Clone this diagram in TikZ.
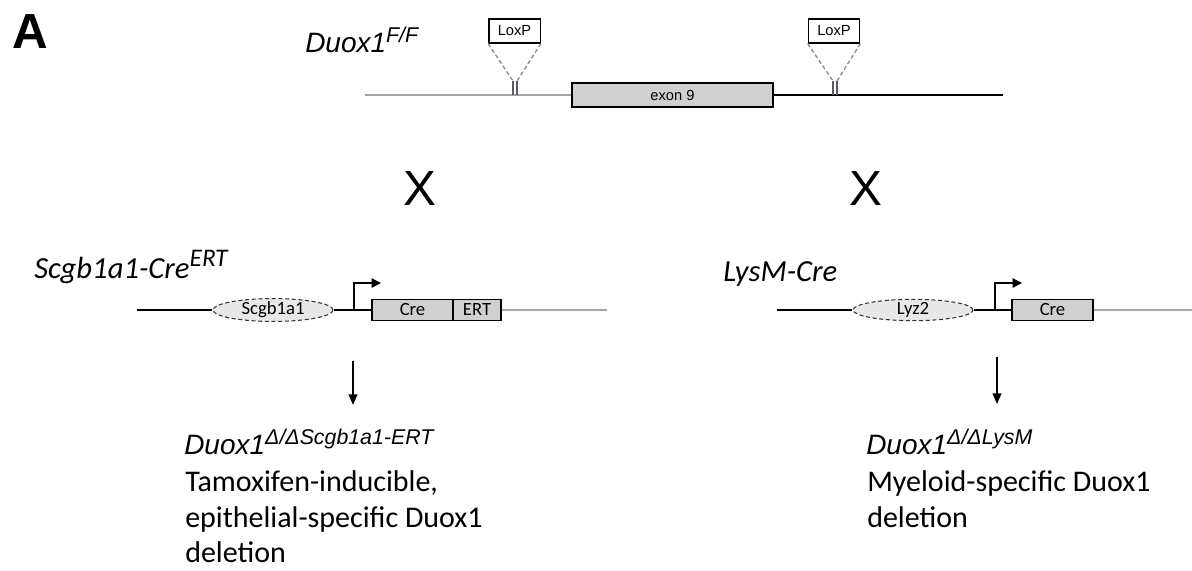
\documentclass[tikz,border=0pt]{standalone}
\usepackage{fontspec}
\setmainfont{Carlito}
\newfontfamily\arialfont{Liberation Sans}
\usetikzlibrary{arrows.meta,shapes.geometric}
\definecolor{dnagray}{HTML}{A6A6A6}
\definecolor{boxfill}{HTML}{D0D0D0}
\definecolor{ovalfill}{HTML}{E8E8E8}
\definecolor{loxdash}{HTML}{8C8C8C}
\definecolor{loxstem}{HTML}{555A66}
\newcommand{\gtsup}[1]{\raisebox{0.34em}{\fontsize{16}{16}\selectfont #1}}

\begin{document}
\begin{tikzpicture}[x=0.75pt,y=-0.75pt,
  dna/.style={line width=1pt,black},
  dnalight/.style={line width=1pt,dnagray},
  genebox/.style={draw,line width=1pt,fill=boxfill,inner sep=0pt,
    minimum height=15.75pt,font=\fontsize{14}{14}\selectfont},
  exonbox/.style={draw,line width=1pt,fill=boxfill,inner sep=0pt,
    minimum width=150.75pt,minimum height=18pt,font=\arialfont\fontsize{11}{11}\selectfont},
  loxbox/.style={draw,line width=1pt,fill=white,inner sep=0pt,
    minimum width=38.5pt,minimum height=18pt,font=\arialfont\fontsize{11}{11}\selectfont},
  promoter/.style={ellipse,draw=black!80,densely dashed,line width=0.8pt,fill=ovalfill,
    inner sep=0pt,minimum width=90pt,minimum height=15.75pt,font=\fontsize{14}{14}\selectfont},
  loxleg/.style={loxdash,line width=1pt,dash pattern=on 3pt off 2pt},
  loxpin/.style={loxstem,line width=0.9pt},
  tss/.style={line width=1pt,-{Triangle[length=7pt,width=7pt]}},
  crossarrow/.style={line width=1.5pt,-{Triangle[length=8pt,width=6.5pt]}},
  lbl/.style={anchor=base west,inner sep=0pt},
  genotype/.style={lbl,font=\arialfont\itshape\fontsize{21}{21}\selectfont},
  bodytext/.style={lbl,font=\fontsize{22.5}{22.5}\selectfont},
]
\useasboundingbox (0,0) rectangle (1192,571);
\fill[white] (0,0) rectangle (1192,571);

% panel letter and floxed allele label
\node[lbl,font=\arialfont\bfseries\fontsize{37}{37}\selectfont] (panel) at (12,48) {A};
\node[genotype] (floxed) at (305,52) {Duox1\gtsup{F/F}};

% floxed Duox1 locus
\node[exonbox] (exon) at (672.5,95) {exon 9};
\coordinate (topL) at (365,95);
\coordinate (topR) at (1003,95);
\draw[dnalight] (topL) -- (exon.west);
\draw[dna] (exon.east) -- (topR);

% LoxP sites
\node[loxbox] (loxL) at (514.5,31) {LoxP};
\node[loxbox] (loxR) at (834,31) {LoxP};
\coordinate (pinLa) at (513,81);
\coordinate (pinLb) at (517,81);
\coordinate (pinRa) at (833,81);
\coordinate (pinRb) at (837,81);
\draw[loxleg] (loxL.south west) -- (pinLa);
\draw[loxleg] (loxL.south east) -- (pinLb);
\draw[loxleg] (loxR.south west) -- (pinRa);
\draw[loxleg] (loxR.south east) -- (pinRb);
\draw[loxpin] (pinLa) -- (pinLa |- topL);
\draw[loxpin] (pinLb) -- (pinLb |- topL);
\draw[loxpin] (pinRa) -- (pinRa |- topL);
\draw[loxpin] (pinRb) -- (pinRb |- topL);

% crosses
\node[font=\arialfont\fontsize{37}{37}\selectfont] (crossL) at (420,189) {X};
\node[font=\arialfont\fontsize{37}{37}\selectfont] (crossR) at (866,189) {X};

% Scgb1a1-CreERT transgene
\node[lbl,font=\itshape\fontsize{23}{23}\selectfont] (scgbLabel) at (34,278)
  {Scgb1a1-Cre\raisebox{0.36em}{\fontsize{19}{19}\selectfont ERT}};
\node[promoter] (scgb) at (273,310) {Scgb1a1};
\node[genebox,minimum width=60.75pt] (creL) at (412.5,310) {Cre};
\node[genebox,minimum width=36pt] (ert) at (477,310) {ERT};
\coordinate (leftA) at (137,310);
\coordinate (leftB) at (607,310);
\coordinate (tssL) at (354,310);
\coordinate (tssLend) at (381,283);
\draw[dna] (leftA) -- (scgb.west);
\draw[dna] (scgb.east) -- (creL.west);
\draw[dnalight] (ert.east) -- (leftB);
\draw[tss] (tssL) |- (tssLend);

% LysM-Cre knock-in
\node[lbl,font=\itshape\fontsize{23}{23}\selectfont] (lysLabel) at (723,281) {LysM-Cre};
\node[promoter] (lyz) at (913,310) {Lyz2};
\node[genebox,minimum width=60.75pt] (creR) at (1052.5,310) {Cre};
\coordinate (rightA) at (777,310);
\coordinate (rightB) at (1192,310);
\coordinate (tssR) at (995,310);
\coordinate (tssRend) at (1022,283);
\draw[dna] (rightA) -- (lyz.west);
\draw[dna] (lyz.east) -- (creR.west);
\draw[dnalight] (creR.east) -- (rightB);
\draw[tss] (tssR) |- (tssRend);

% offspring arrows
\coordinate (downLa) at (353,361);
\coordinate (downLb) at (353,405);
\coordinate (downRa) at (997,357);
\coordinate (downRb) at (997,404);
\draw[crossarrow] (downLa) -- (downLb);
\draw[crossarrow] (downRa) -- (downRb);

% resulting deletion lines
\node[genotype] (koL) at (184,454) {Duox1\gtsup{Δ/ΔScgb1a1-ERT}};
\node[bodytext] (descL1) at (185,491) {Tamoxifen-inducible,};
\node[bodytext] (descL2) at (185,527) {epithelial-specific Duox1};
\node[bodytext] (descL3) at (185,562) {deletion};
\node[genotype] (koR) at (866,454) {Duox1\gtsup{Δ/ΔLysM}};
\node[bodytext] (descR1) at (867,491) {Myeloid-specific Duox1};
\node[bodytext] (descR2) at (867,527) {deletion};
\end{tikzpicture}
\end{document}
